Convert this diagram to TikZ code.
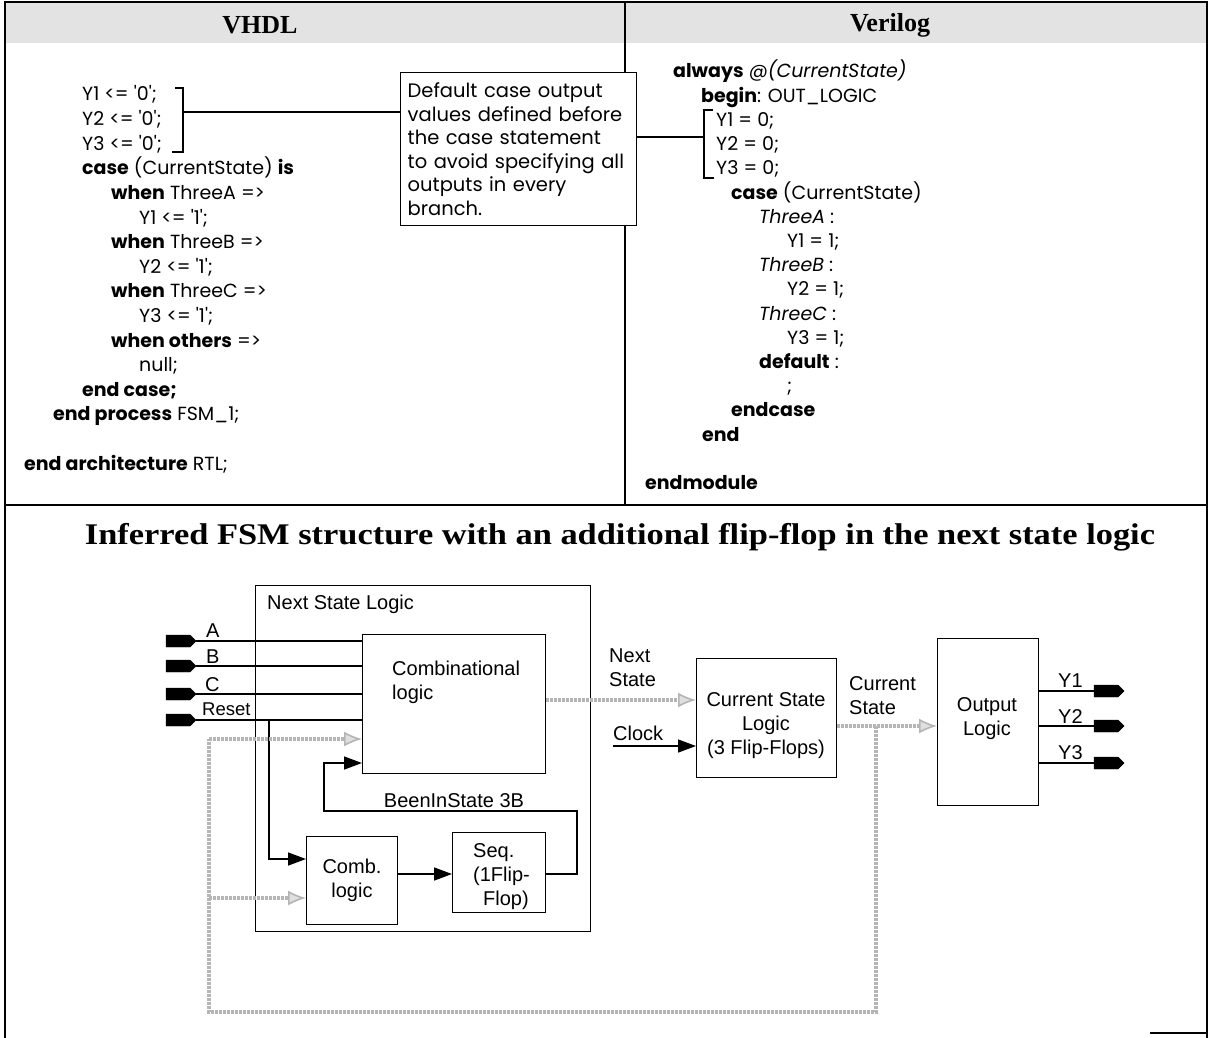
\documentclass[tikz,border=0pt]{standalone}
\usepackage{fontspec}
\setmainfont{Liberation Sans}
\newfontfamily\codefont{Poppins}
\newfontfamily\seriff{Liberation Serif}
\usetikzlibrary{arrows.meta,shapes.symbols,calc}
\tikzset{
  codeline/.style={anchor=base west, inner sep=0pt, font=\codefont\fontsize{19}{22}\selectfont},
  dtext/.style={font=\fontsize{20}{24}\selectfont, inner sep=0pt},
  blockbox/.style={draw, line width=1.4pt, fill=white, inner sep=0pt},
  sigport/.style={signal, signal to=east, fill=black, draw=black, minimum width=30pt, minimum height=12pt, inner sep=0pt},
  wire/.style={line width=1.3pt},
  blk/.style={line width=1.5pt, -{Triangle[length=18pt,width=13pt]}},
  gcon/.style={draw=gray!58, line width=3.5pt, dash pattern=on 3pt off 1pt},
  garr/.style={gcon, -{Latex[length=18pt,width=15pt,line width=1.6pt,fill=gray!25]}},
  hdr/.style={font=\seriff\bfseries\fontsize{26}{30}\selectfont, inner sep=0pt}
}
\begin{document}
\begin{tikzpicture}[x=1pt,y=-1pt]
\useasboundingbox (0,0) rectangle (1212,1038);
% header band and frame
\fill[gray!22] (5,2) rectangle (1207,43);
\draw[line width=2.2pt] (5,1038) -- (5,2) -- (1207,2) -- (1207,1038);
\draw[line width=2pt] (5,505) -- (1207,505);
\draw[line width=1.3pt] (625,2) -- (625,505);
\draw[line width=1.3pt] (1150,1033) -- (1207,1033);
\node[hdr] (hV) at (260,25) {VHDL};
\node[hdr] (hVl) at (890,25) {Verilog};

% VHDL code
\node[codeline] (v1) at (82,101) {Y1 <= '0';};
\node[codeline] (v2) at (82,125.6) {Y2 <= '0';};
\node[codeline] (v3) at (82,150.2) {Y3 <= '0';};
\node[codeline] (v4) at (82,174.8) {\textbf{case} (CurrentState) \textbf{is}};
\node[codeline] (v5) at (111,199.4) {\textbf{when} ThreeA =>};
\node[codeline] (v6) at (139,224) {Y1 <= '1';};
\node[codeline] (v7) at (111,248.6) {\textbf{when} ThreeB =>};
\node[codeline] (v8) at (139,273.2) {Y2 <= '1';};
\node[codeline] (v9) at (111,297.8) {\textbf{when} ThreeC =>};
\node[codeline] (v10) at (139,322.4) {Y3 <= '1';};
\node[codeline] (v11) at (111,347) {\textbf{when others} =>};
\node[codeline] (v12) at (139,371.6) {null;};
\node[codeline] (v13) at (82,396.2) {\textbf{end case;}};
\node[codeline] (v14) at (53,420.8) {\textbf{end process} FSM\_1;};
\node[codeline] (v15) at (24,470) {\textbf{end architecture} RTL;};

% Verilog code
\node[codeline] (g1) at (673,78) {\textbf{always} \textit{@(CurrentState)}};
\node[codeline] (g2) at (701,102.2) {\textbf{begin}: OUT\_LOGIC};
\node[codeline] (g3) at (716,126.4) {Y1 = 0;};
\node[codeline] (g4) at (716,150.6) {Y2 = 0;};
\node[codeline] (g5) at (716,174.8) {Y3 = 0;};
\node[codeline] (g6) at (731,199) {\textbf{case} (CurrentState)};
\node[codeline] (g7) at (759,223.2) {\textit{ThreeA} :};
\node[codeline] (g8) at (787,247.4) {Y1 = 1;};
\node[codeline] (g9) at (759,271.6) {\textit{ThreeB} :};
\node[codeline] (g10) at (787,295.8) {Y2 = 1;};
\node[codeline] (g11) at (759,320) {\textit{ThreeC} :};
\node[codeline] (g12) at (787,344.2) {Y3 = 1;};
\node[codeline] (g13) at (759,368.4) {\textbf{default} :};
\node[codeline] (g14) at (787,392.6) {;};
\node[codeline] (g15) at (731,416.8) {\textbf{endcase}};
\node[codeline] (g16) at (702,441) {\textbf{end}};
\node[codeline] (g17) at (645,489.4) {\textbf{endmodule}};

% brackets and callout
\draw[wire] (175,88) -- (183,88) -- (183,152) -- (172,152);
\coordinate (vbr) at (183,112);
\draw[wire] (713,110) -- (704,110) -- (704,178) -- (714,178);
\coordinate (gbr) at (704,137);
\node[blockbox, anchor=north west, minimum width=236pt, minimum height=153pt,
      text width=222pt, align=left, inner xsep=6pt, inner ysep=6pt,
      font=\codefont\fontsize{19.5}{23.6}\selectfont] (callout) at (400,72)
  {Default case output\\values defined before\\the case statement\\to avoid specifying all\\outputs in every\\branch.};
\draw[wire] (vbr) -- (callout.west |- vbr);
\draw[wire] (callout.east |- gbr) -- (gbr);

% bottom title
\node[font=\seriff\bfseries\fontsize{30}{34}\selectfont, inner sep=0pt] (title) at (620,537)
  {\scalebox{1.147}[1]{Inferred FSM structure with an additional flip-flop in the next state logic}};

% diagram boxes
\node[blockbox, anchor=north west, minimum width=335pt, minimum height=346pt] (nsl) at (255,585) {};
\node[dtext, anchor=base west] (nslT) at (267,609) {Next State Logic};
\node[blockbox, anchor=north west, minimum width=183pt, minimum height=139pt] (comb) at (362,634) {};
\node[dtext, anchor=base west, align=left] (combT) at (392,699) {Combinational\\logic};
\node[blockbox, anchor=north west, minimum width=91pt, minimum height=88pt] (combS) at (306,836) {};
\node[dtext, anchor=base, align=center] (combST) at (352,897) {Comb.\\logic};
\node[blockbox, anchor=north west, minimum width=93pt, minimum height=80pt] (seq) at (452,832) {};
\node[dtext, anchor=base west, align=left] (seqT) at (473,905) {Seq.\\(1Flip-\\\hspace{10pt}Flop)};
\node[blockbox, anchor=north west, minimum width=140pt, minimum height=119pt] (cur) at (696,658) {};
\node[dtext, anchor=base, align=center] (curT) at (766,754) {Current State\\Logic\\(3 Flip-Flops)};
\node[blockbox, anchor=north west, minimum width=101pt, minimum height=167pt] (out) at (937,638) {};
\node[dtext, anchor=base, align=center] (outT) at (987,735) {Output\\Logic};

% input ports
\node[sigport] (pA) at (178,641) {};
\node[sigport] (pB) at (178,666) {};
\node[sigport] (pC) at (178,694) {};
\node[sigport] (pR) at (178,720) {};
\node[dtext, anchor=base west] (lA) at (206,637) {A};
\node[dtext, anchor=base west] (lB) at (206,663) {B};
\node[dtext, anchor=base west] (lC) at (205,691) {C};
\node[dtext, anchor=base west, font=\fontsize{18.5}{22}\selectfont] (lR) at (202,715) {Reset};
\draw[wire] (pA.east) -- (pA.east -| comb.west);
\draw[wire] (pB.east) -- (pB.east -| comb.west);
\draw[wire] (pC.east) -- (pC.east -| comb.west);
\draw[wire] (pR.east) -- (pR.east -| comb.west);
\coordinate (rj) at (269,720);
\draw[blk] (rj) |- (combS.west |- 269,859);

% inner connections
\draw[blk] (combS.east |- 0,874) -- (seq.west |- 0,874);
\draw[blk] (seq.east |- 0,874) -| (577,811) -| (324,763) -- (comb.west |- 324,763);
\node[dtext, anchor=base] (been) at (454,807) {BeenInState 3B};

% next state / clock
\node[dtext, anchor=base west, align=left] (nsLab) at (609,686) {Next\\State};
\draw[garr] (comb.east |- 0,700) -- (cur.west |- 0,700);
\node[dtext, anchor=base west] (clk) at (613,740) {Clock};
\coordinate (clkS) at (613,746);
\draw[blk] (clkS) -- (cur.west |- clkS);
\node[dtext, anchor=base west, align=left] (csLab) at (849,714) {Current\\State};
\draw[garr] (cur.east |- 0,726) -- (out.west |- 0,726);

% gray feedback
\coordinate (gA) at (876,726);
\coordinate (gB) at (209,739);
\coordinate (gC) at (209,898);
\draw[gcon] (gA) |- (209,1012) -- (gB);
\draw[garr] (gB) -- (comb.west |- gB);
\draw[garr] (gC) -- (combS.west |- gC);

% outputs
\node[sigport] (pY1) at (1106,691) {};
\node[sigport] (pY2) at (1106,726) {};
\node[sigport] (pY3) at (1106,763) {};
\draw[wire] (out.east |- pY1) -- (pY1.west);
\draw[wire] (out.east |- pY2) -- (pY2.west);
\draw[wire] (out.east |- pY3) -- (pY3.west);
\node[dtext, anchor=base west] (lY1) at (1058,687) {Y1};
\node[dtext, anchor=base west] (lY2) at (1058,723) {Y2};
\node[dtext, anchor=base west] (lY3) at (1058,759) {Y3};
\end{tikzpicture}
\end{document}
